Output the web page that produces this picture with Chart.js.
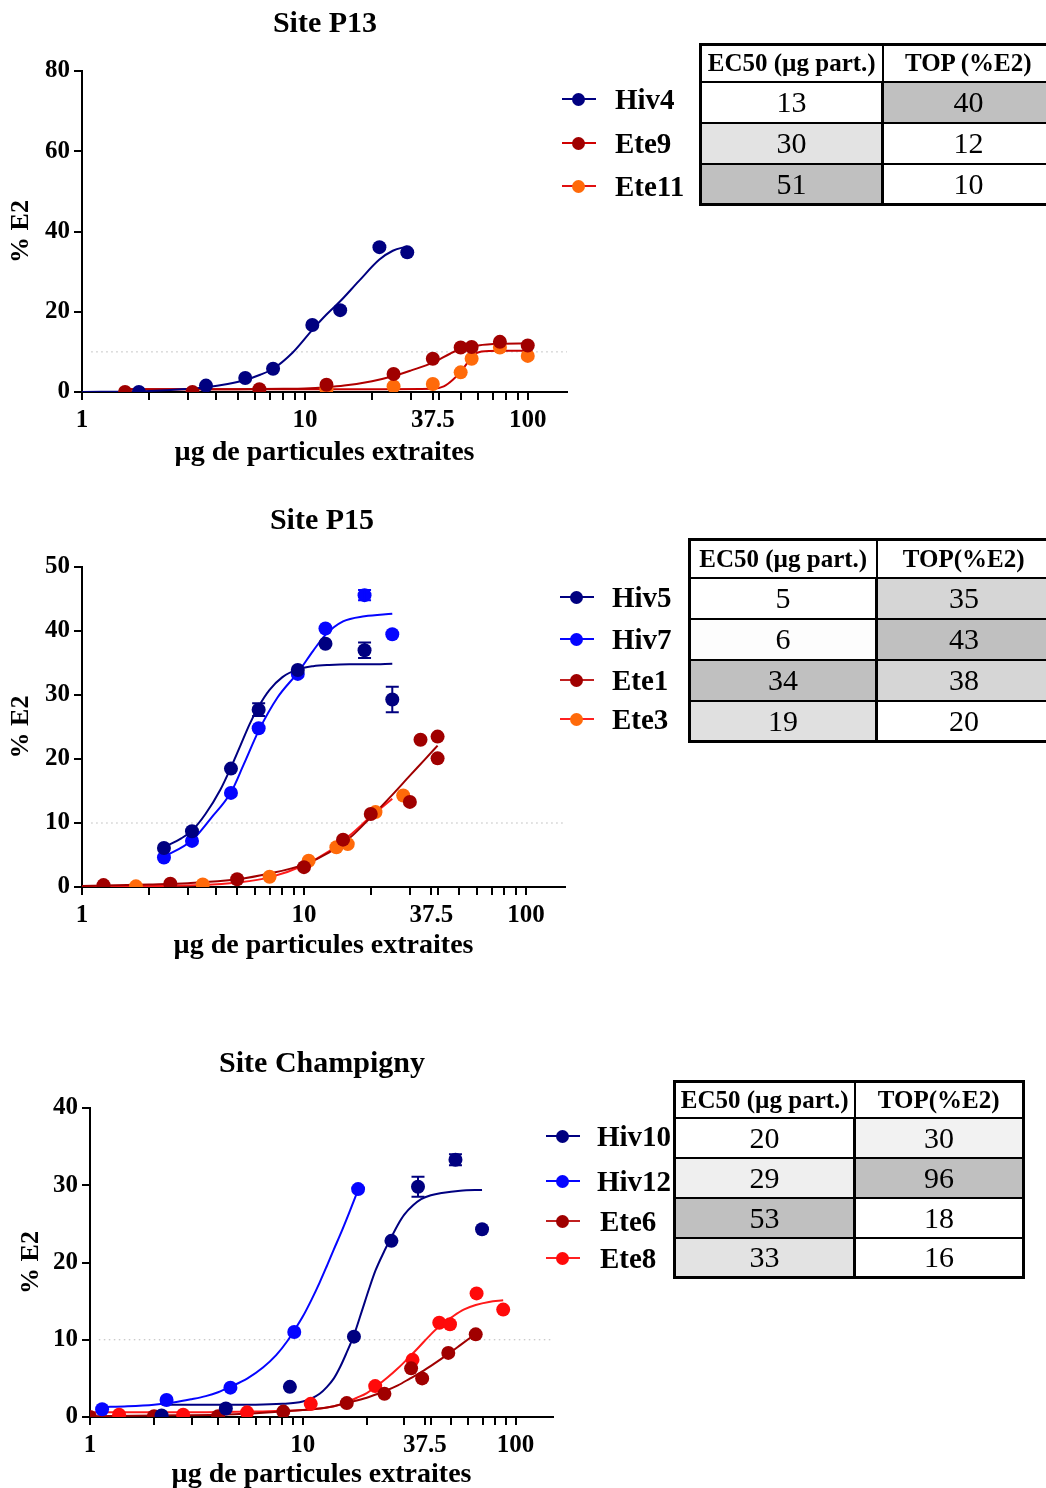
<!DOCTYPE html>
<html>
<head>
<meta charset="utf-8">
<script src="https://cdn.jsdelivr.net/npm/chart.js@4/dist/chart.umd.min.js"></script>
<style>
    html, body { margin: 0; padding: 0; width: 1046px; height: 1488px; overflow: hidden; background: #fff; }
    body { position: relative; font-family: 'Liberation Serif', 'Times New Roman', serif; color: #000; }
    canvas.plot { position: absolute; left: 0; }
    .title { position: absolute; font-weight: bold; font-size: 30px; transform: translate(-50%, -50%); white-space: nowrap; }
    .legend-item { position: absolute; height: 0; }
    .legend-item .line { position: absolute; left: 0; top: -1px; width: 34px; height: 2px; }
    .legend-item .dot { position: absolute; left: 10px; top: -6.5px; width: 13px; height: 13px; border-radius: 50%; }
    .legend-item .label { position: absolute; top: -18px; font-weight: bold; font-size: 29px; line-height: 36px; white-space: nowrap; }
    table.stats { position: absolute; border-collapse: collapse; table-layout: fixed; border: 3px solid #000; }
    table.stats th, table.stats td { border: 2px solid #000; text-align: center; padding: 0; overflow: hidden; white-space: nowrap; }
    table.stats th { font-weight: bold; font-size: 25px; background: #fff; }
    table.stats td { font-weight: normal; font-size: 30px; }
    table.stats td.c1 { border-right-width: 3px; }
</style>
</head>
<body>
<canvas id="plotP13" class="plot"></canvas>
<canvas id="plotP15" class="plot"></canvas>
<canvas id="plotChamp" class="plot"></canvas>

<script>
// ---- Site P13 ----
const p13Hiv4Dose = [1.8, 3.6, 5.4, 7.2, 10.8, 14.4, 21.6, 28.8];
const p13Hiv4Value = [0, 1.6, 3.5, 5.8, 16.7, 20.4, 36.1, 34.8];
const p13Hiv4FitDose = [1, 1.8, 2.5, 3.6, 4.5, 5.4, 6.3, 7.2, 8.8, 10.8, 12.5, 14.4, 17.5, 21.6, 24.8, 28.8];
const p13Hiv4Fit = [0, 0.15, 0.5, 1.2, 2.0, 3.0, 4.3, 5.8, 9.8, 15.5, 19.3, 22.6, 27.7, 33.0, 35.2, 36.3];

const p13Ete9Dose = [1.56, 3.13, 6.25, 12.5, 25, 37.5, 50, 56, 75, 100];
const p13Ete9Value = [0, 0, 0.7, 1.8, 4.5, 8.3, 11.1, 11.2, 12.5, 11.6];
const p13Ete9FitDose = [1.56, 3, 5, 8, 10, 12.5, 15, 20, 25, 30, 37.5, 45, 50, 60, 75, 100];
const p13Ete9Fit = [0.7, 0.7, 0.7, 0.8, 0.9, 1.2, 1.6, 2.7, 4.0, 5.4, 7.3, 9.6, 10.7, 11.6, 12.0, 12.1];

const p13Ete11Dose = [12.5, 25, 37.5, 50, 56, 75, 100];
const p13Ete11Value = [0.7, 1.4, 2.0, 4.9, 8.3, 11.1, 9.0];
const p13Ete11FitDose = [1.56, 10, 20, 37.5, 42, 46, 50, 54, 57, 62, 75, 100];
const p13Ete11Fit = [0.7, 0.7, 0.7, 0.8, 1.4, 3.0, 5.1, 7.5, 9.2, 10.1, 10.3, 10.3];

const p13Names = ['Hiv4', 'Ete9', 'Ete11'];
const p13Ec50 = [13, 30, 51];
const p13Top = [40, 12, 10];

// ---- Site P15 ----
const p15HivDose = [2.34, 3.13, 4.69, 6.25, 9.38, 12.5, 18.75, 25];
const p15Hiv5Value = [6.1, 8.7, 18.5, 27.7, 33.9, 38.0, 37.0, 29.3];
const p15Hiv5Error = [0, 0, 0, 1.0, 0, 0, 1.2, 2.0];
const p15Hiv5FitDose = [2.34, 2.8, 3.13, 3.6, 4.2, 4.69, 5.2, 5.7, 6.25, 7, 8, 9.38, 11, 13, 16, 20, 25];
const p15Hiv5Fit = [6.2, 7.6, 8.8, 11.4, 15.2, 18.7, 22.3, 25.5, 28.2, 30.8, 32.8, 34.0, 34.5, 34.7, 34.8, 34.8, 34.9];

const p15Hiv7Value = [4.6, 7.2, 14.7, 24.8, 33.3, 40.4, 45.6, 39.5];
const p15Hiv7Error = [0, 0, 0, 0, 0, 0, 0.8, 0];
const p15Hiv7FitDose = [2.34, 3.13, 3.8, 4.69, 5.36, 6.25, 7.6, 9.38, 11, 12.5, 15, 18.75, 25];
const p15Hiv7Fit = [4.7, 7.3, 10.7, 14.8, 19.2, 24.4, 29.6, 33.5, 36.9, 39.4, 41.5, 42.3, 42.7];

const p15Ete1Dose = [1.25, 2.5, 5, 10, 15, 20, 30, 33.5, 40, 40];
const p15Ete1Value = [0.3, 0.5, 1.2, 3.1, 7.4, 11.4, 13.3, 23.0, 23.5, 20.1];
const p15Ete1FitDose = [1, 2, 3, 5, 7, 10, 13, 16, 20, 25, 30, 35, 40];
const p15Ete1Fit = [0.15, 0.4, 0.6, 1.2, 2.1, 3.5, 5.4, 7.6, 10.9, 14.4, 17.4, 19.9, 22.1];

const p15Ete3Dose = [1.75, 3.5, 7, 10.5, 14, 15.75, 21, 28];
const p15Ete3Value = [0.1, 0.4, 1.6, 4.1, 6.2, 6.7, 11.7, 14.3];
const p15Ete3FitDose = [1, 2, 3.5, 5, 7, 10, 13, 16, 20, 25];
const p15Ete3Fit = [0.05, 0.15, 0.3, 0.7, 1.5, 3.4, 5.6, 8.0, 11.0, 13.8];

const p15Names = ['Hiv5', 'Hiv7', 'Ete1', 'Ete3'];
const p15Ec50 = [5, 6, 34, 19];
const p15Top = [35, 43, 38, 20];

// ---- Site Champigny ----
const chHiv10Dose = [2.17, 4.35, 8.7, 17.4, 26.1, 34.8, 52.2, 69.6];
const chHiv10Value = [0.2, 1.1, 3.9, 10.4, 22.8, 29.8, 33.3, 24.3];
const chHiv10Error = [0, 0, 0, 0, 0, 1.3, 0.7, 0];
const chHiv10FitDose = [2.17, 4, 6, 8, 10, 11, 12, 13, 14, 15, 16, 17.4, 19, 20.5, 22, 24, 26, 28, 30, 33, 36, 40, 45, 55, 69.6];
const chHiv10Fit = [1.6, 1.6, 1.6, 1.7, 2.0, 2.4, 3.0, 3.9, 5.0, 6.5, 8.2, 10.6, 13.8, 16.6, 19.0, 21.3, 23.2, 24.9, 26.2, 27.4, 28.2, 28.7, 29.0, 29.3, 29.4];

const chHiv12Dose = [1.14, 2.29, 4.57, 9.12, 18.2];
const chHiv12Value = [1.0, 2.2, 3.8, 11.0, 29.5];
const chHiv12FitDose = [1.14, 1.5, 2, 2.5, 3, 3.5, 4, 4.57, 5.5, 6.5, 7.5, 8.5, 9.12, 10, 11, 12, 13, 14, 15, 16.5, 18.2];
const chHiv12Fit = [1.3, 1.4, 1.6, 1.9, 2.3, 2.7, 3.2, 3.9, 5.0, 6.4, 8.0, 9.9, 11.2, 13.0, 15.2, 17.4, 19.6, 21.7, 23.6, 26.4, 29.4];

const chEte6Dose = [1.0, 2.0, 4.0, 8.1, 16.1, 24.2, 32.3, 36.4, 48.3, 65.0];
const chEte6Value = [0, 0.1, 0.1, 0.7, 1.8, 3.0, 6.3, 5.0, 8.3, 10.7];
const chEte6FitDose = [1, 2, 4, 6, 8, 10, 12, 14, 16, 20, 24, 28, 32, 37, 42, 48, 55, 65];
const chEte6Fit = [0.1, 0.2, 0.3, 0.5, 0.7, 0.9, 1.1, 1.4, 1.8, 2.5, 3.3, 4.1, 5.0, 6.0, 7.0, 8.1, 9.3, 10.8];

const chEte8Dose = [1.37, 2.74, 5.47, 10.9, 21.9, 32.8, 43.8, 49.2, 65.6, 87.5];
const chEte8Value = [0.3, 0.3, 0.6, 1.7, 4.0, 7.4, 12.2, 12.0, 16.0, 13.9];
const chEte8FitDose = [1, 3, 6, 10, 12, 14, 16, 18, 20, 22, 25, 28, 31, 35, 40, 45, 50, 57, 65, 75, 87.5];
const chEte8Fit = [0.6, 0.6, 0.7, 0.9, 1.1, 1.4, 1.9, 2.5, 3.1, 3.9, 5.1, 6.3, 7.5, 9.0, 10.7, 12.0, 12.9, 13.9, 14.5, 14.9, 15.1];

const chNames = ['Hiv10', 'Hiv12', 'Ete6', 'Ete8'];
const chEc50 = [20, 29, 53, 33];
const chTop = [30, 96, 18, 16];

// shared x axis
const xTickValues = [1, 2, 3, 4, 5, 6, 7, 8, 9, 10, 20, 30, 37.5, 40, 50, 60, 70, 80, 90, 100];
const xTickLabels = [1, 10, 37.5, 100];
const thresholdLevel = 10;

const NAVY = '#000080';
const BLUE = '#0505ff';
const DARKRED = '#a00000';
const ORANGE = '#ff6a0a';
const RED = '#ff0a0a';

const FONT = "'Liberation Serif', 'Times New Roman', serif";

const errorBars = {
    id: 'errorBars',
    afterDatasetsDraw(chart) {
        const ctx = chart.ctx;
        const xs = chart.scales.x;
        const ys = chart.scales.y;
        chart.data.datasets.forEach(ds => {
            if (!ds.errors) return;
            ds.data.forEach((pt, j) => {
                const err = ds.errors[j];
                if (!err) return;
                const x = xs.getPixelForValue(pt.x);
                const y1 = ys.getPixelForValue(pt.y + err);
                const y2 = ys.getPixelForValue(pt.y - err);
                ctx.save();
                ctx.strokeStyle = ds.backgroundColor;
                ctx.lineWidth = 2;
                ctx.beginPath();
                ctx.moveTo(x, y1); ctx.lineTo(x, y2);
                ctx.moveTo(x - 6.5, y1); ctx.lineTo(x + 6.5, y1);
                ctx.moveTo(x - 6.5, y2); ctx.lineTo(x + 6.5, y2);
                ctx.stroke();
                ctx.restore();
            });
        });
    }
};

function toPoints(xs, ys) {
    return xs.map((x, i) => ({ x: x, y: ys[i] }));
}

function pointSet(dose, value, color, errors) {
    return {
        data: toPoints(dose, value),
        showLine: false,
        pointRadius: 7,
        pointBorderWidth: 0,
        backgroundColor: color,
        borderColor: color,
        errors: errors || null,
        order: 0
    };
}

function fitSet(dose, value, color) {
    return {
        data: toPoints(dose, value),
        showLine: true,
        pointRadius: 0,
        borderWidth: 2,
        borderColor: color,
        backgroundColor: color,
        cubicInterpolationMode: 'monotone',
        order: 1
    };
}

function buildPlot(canvasId, opts) {
    const canvas = document.getElementById(canvasId);
    canvas.style.top = opts.top + 'px';
    canvas.width = 600;
    canvas.height = opts.height;
    canvas.style.width = '600px';
    canvas.style.height = opts.height + 'px';

    const threshold = {
        data: [{ x: 1.1, y: thresholdLevel }, { x: 150, y: thresholdLevel }],
        showLine: true,
        pointRadius: 0,
        borderWidth: 1,
        borderColor: '#b8b8b8',
        borderDash: [1.5, 3.5],
        order: 2
    };

    return new Chart(canvas.getContext('2d'), {
        type: 'scatter',
        data: { datasets: opts.datasets.concat([threshold]) },
        options: {
            responsive: false,
            animation: false,
            events: [],
            layout: { padding: { top: opts.areaTop, right: 600 - opts.areaRight, left: 0, bottom: 0 } },
            plugins: { legend: { display: false }, tooltip: { enabled: false }, title: { display: false } },
            scales: {
                x: {
                    type: 'logarithmic',
                    min: 1,
                    max: 150,
                    afterFit: s => { s.height = opts.height - opts.areaBottom; },
                    afterBuildTicks: s => { s.ticks = xTickValues.map(v => ({ value: v })); },
                    border: { display: true, color: '#000', width: 2 },
                    grid: { drawOnChartArea: false, drawTicks: true, tickLength: 8, color: '#000', lineWidth: 2 },
                    ticks: {
                        autoSkip: false,
                        maxRotation: 0,
                        padding: 6,
                        color: '#000',
                        font: { family: FONT, size: 25, weight: 'bold' },
                        callback: v => xTickLabels.includes(v) ? String(v) : ''
                    },
                    title: {
                        display: true,
                        text: 'µg de particules extraites',
                        color: '#000',
                        font: { family: FONT, size: 28, weight: 'bold' },
                        padding: { top: 0, bottom: opts.xTitlePad }
                    }
                },
                y: {
                    min: 0,
                    max: opts.yMax,
                    afterFit: s => { s.width = opts.areaLeft; },
                    border: { display: true, color: '#000', width: 2 },
                    grid: { drawOnChartArea: false, drawTicks: true, tickLength: 8, color: '#000', lineWidth: 2 },
                    ticks: {
                        stepSize: opts.yStep,
                        padding: 4,
                        color: '#000',
                        font: { family: FONT, size: 25, weight: 'bold' }
                    },
                    title: {
                        display: true,
                        text: '% E2',
                        color: '#000',
                        font: { family: FONT, size: 26, weight: 'bold' },
                        padding: { top: opts.yTitlePad, bottom: 0 }
                    }
                }
            }
        },
        plugins: [errorBars]
    });
}

function addTitle(text, cx, cy) {
    const el = document.createElement('div');
    el.className = 'title';
    el.innerText = text;
    el.style.left = cx + 'px';
    el.style.top = cy + 'px';
    document.body.appendChild(el);
}

function addLegend(names, dotColors, lineColors, x, ys, labelX) {
    names.forEach((name, i) => {
        const item = document.createElement('div');
        item.className = 'legend-item';
        item.style.left = x + 'px';
        item.style.top = ys[i] + 'px';
        item.innerHTML = `<div class="line" style="background:${lineColors[i]}"></div>` +
            `<div class="dot" style="background:${dotColors[i]}"></div>` +
            `<div class="label" style="left:${labelX[i] - x}px">${name}</div>`;
        document.body.appendChild(item);
    });
}

function addTable(ec50, top, ec50Shade, topShade, opts) {
    const table = document.createElement('table');
    table.className = 'stats';
    table.style.left = opts.left + 'px';
    table.style.top = opts.top + 'px';
    table.style.width = (opts.cols[0] + opts.cols[1]) + 'px';
    let html = `<colgroup><col style="width:${opts.cols[0]}px"><col style="width:${opts.cols[1]}px"></colgroup>`;
    html += `<tr style="height:${opts.headH}px"><th>EC50 (µg part.)</th><th>${opts.topHeader}</th></tr>`;
    ec50.forEach((v, i) => {
        html += `<tr style="height:${opts.rowH[i]}px">` +
            `<td class="c1" style="background:${ec50Shade[i]}">${v}</td>` +
            `<td style="background:${topShade[i]}">${top[i]}</td></tr>`;
    });
    table.innerHTML = html;
    document.body.appendChild(table);
}

document.addEventListener('DOMContentLoaded', () => {
    // Site P13
    addTitle('Site P13', 325, 22);
    buildPlot('plotP13', {
        top: 0, height: 480, areaTop: 71, areaBottom: 392, areaLeft: 82, areaRight: 567,
        yMax: 80, yStep: 20, xTitlePad: 10, yTitlePad: 6,
        datasets: [
            pointSet(p13Hiv4Dose, p13Hiv4Value, NAVY),
            pointSet(p13Ete9Dose, p13Ete9Value, DARKRED),
            pointSet(p13Ete11Dose, p13Ete11Value, ORANGE),
            fitSet(p13Hiv4FitDose, p13Hiv4Fit, NAVY),
            fitSet(p13Ete9FitDose, p13Ete9Fit, '#b00000'),
            fitSet(p13Ete11FitDose, p13Ete11Fit, '#c80000')
        ]
    });
    addLegend(p13Names, [NAVY, DARKRED, ORANGE], [NAVY, '#d00000', '#e01010'], 562, [99, 143, 186], [615, 615, 615]);
    addTable(p13Ec50, p13Top, ['#ffffff', '#e3e3e3', '#c0c0c0'], ['#c0c0c0', '#ffffff', '#ffffff'],
        { left: 699, top: 43, cols: [182, 172], headH: 37, rowH: [41, 41, 41], topHeader: 'TOP (%E2)' });

    // Site P15
    addTitle('Site P15', 322, 519);
    buildPlot('plotP15', {
        top: 496, height: 480, areaTop: 71, areaBottom: 391, areaLeft: 82, areaRight: 565,
        yMax: 50, yStep: 10, xTitlePad: 13, yTitlePad: 6,
        datasets: [
            pointSet(p15HivDose, p15Hiv5Value, NAVY, p15Hiv5Error),
            pointSet(p15HivDose, p15Hiv7Value, BLUE, p15Hiv7Error),
            pointSet(p15Ete1Dose, p15Ete1Value, DARKRED),
            pointSet(p15Ete3Dose, p15Ete3Value, ORANGE),
            fitSet(p15Hiv5FitDose, p15Hiv5Fit, NAVY),
            fitSet(p15Hiv7FitDose, p15Hiv7Fit, BLUE),
            fitSet(p15Ete1FitDose, p15Ete1Fit, DARKRED),
            fitSet(p15Ete3FitDose, p15Ete3Fit, '#ff1a1a')
        ]
    });
    addLegend(p15Names, [NAVY, BLUE, DARKRED, ORANGE], [NAVY, BLUE, '#c02020', '#ff2020'], 560, [597, 639, 680, 719], [612, 612, 612, 612]);
    addTable(p15Ec50, p15Top, ['#ffffff', '#fdfdfd', '#c0c0c0', '#e0e0e0'], ['#d6d6d6', '#c0c0c0', '#d6d6d6', '#ffffff'],
        { left: 688, top: 538, cols: [187, 175], headH: 38, rowH: [41, 41, 41, 41], topHeader: 'TOP(%E2)' });

    // Site Champigny
    addTitle('Site Champigny', 322, 1062);
    buildPlot('plotChamp', {
        top: 1040, height: 452, areaTop: 68, areaBottom: 377, areaLeft: 90, areaRight: 553,
        yMax: 40, yStep: 10, xTitlePad: 0, yTitlePad: 16,
        datasets: [
            pointSet(chHiv10Dose, chHiv10Value, NAVY, chHiv10Error),
            pointSet(chHiv12Dose, chHiv12Value, BLUE),
            pointSet(chEte6Dose, chEte6Value, DARKRED),
            pointSet(chEte8Dose, chEte8Value, RED),
            fitSet(chHiv10FitDose, chHiv10Fit, NAVY),
            fitSet(chHiv12FitDose, chHiv12Fit, BLUE),
            fitSet(chEte6FitDose, chEte6Fit, DARKRED),
            fitSet(chEte8FitDose, chEte8Fit, '#ff1a1a')
        ]
    });
    addLegend(chNames, [NAVY, BLUE, DARKRED, RED], [NAVY, BLUE, '#c02020', '#ff2020'], 546, [1136, 1181, 1221, 1258], [597, 597, 600, 600]);
    addTable(chEc50, chTop, ['#ffffff', '#efefef', '#c0c0c0', '#e3e3e3'], ['#f2f2f2', '#c0c0c0', '#ffffff', '#ffffff'],
        { left: 673, top: 1080, cols: [180, 169], headH: 36, rowH: [40, 40, 40, 40], topHeader: 'TOP(%E2)' });
});
</script>
</body>
</html>
